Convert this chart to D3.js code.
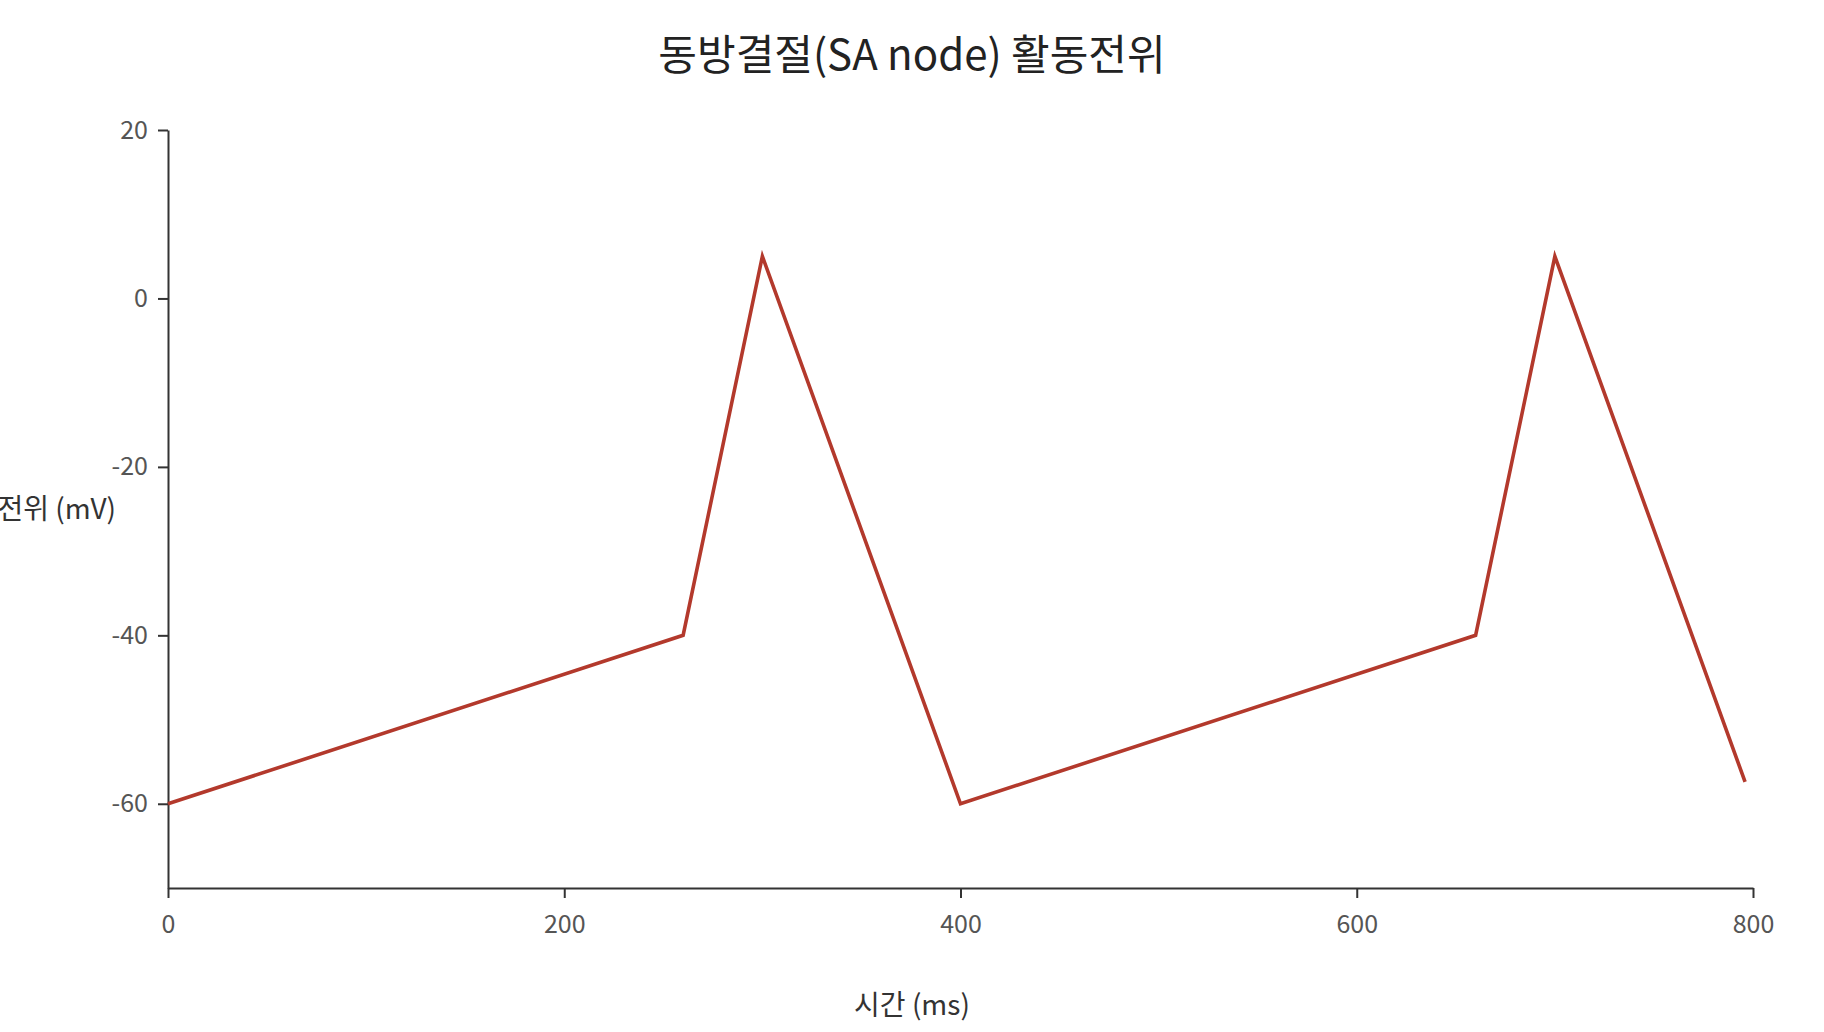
<!DOCTYPE html>
<html>
<head>
<meta charset="utf-8">
<script src="https://cdn.jsdelivr.net/npm/d3@7"></script>
<style>
  body { margin: 0; background: #fff; }
  svg text { font-family: "Noto Sans CJK KR", "Noto Sans", sans-serif; }
  .axis path, .axis line { stroke: #333; stroke-width: 2; }
  .axis text { fill: #555; font-size: 25px; }
</style>
</head>
<body>
<div id="chart"></div>
<script>
// action potential trace
const timeMs = [0, 260, 300, 400, 660, 700, 796];
const voltageMv = [-60, -40, 5, -60, -40, 5, -57.4];
const xTicks = [0, 200, 400, 600, 800];
const yTicks = [-60, -40, -20, 0, 20];

const width = 1824, height = 1032;
const margin = {top: 130, right: 71, bottom: 144, left: 168};
const innerW = width - margin.left - margin.right;
const innerH = height - margin.top - margin.bottom;

let points = timeMs.map((t, i) => ({t: t, v: voltageMv[i]}));

let svg = d3.select("#chart").append("svg")
    .attr("width", width)
    .attr("height", height);

let g = svg.append("g")
    .attr("transform", "translate(" + margin.left + "," + margin.top + ")");

let x = d3.scaleLinear().domain([0, 800]).range([0, innerW]);
let y = d3.scaleLinear().domain([-70, 20]).range([innerH, 0]);

// axes (plain hyphen for negatives, like the original)
g.append("g")
    .attr("class", "axis")
    .attr("transform", "translate(0," + innerH + ")")
    .call(d3.axisBottom(x).tickValues(xTicks).tickFormat(d => String(d))
        .tickSize(10).tickPadding(17).tickSizeOuter(0));

g.append("g")
    .attr("class", "axis")
    .call(d3.axisLeft(y).tickValues(yTicks).tickFormat(d => String(d))
        .tickSize(10).tickPadding(10).tickSizeOuter(0));

// the trace
let line = d3.line()
    .x(d => x(d.t))
    .y(d => y(d.v));

g.append("path")
    .datum(points)
    .attr("fill", "none")
    .attr("stroke", "#b3392c")
    .attr("stroke-width", 3.6)
    .attr("stroke-linejoin", "miter")
    .attr("d", line);

// titles
svg.append("text")
    .attr("x", width / 2)
    .attr("y", 70)
    .attr("text-anchor", "middle")
    .style("font-size", "42px")
    .style("fill", "#222")
    .text("동방결절(SA node) 활동전위");

svg.append("text")
    .attr("x", width / 2)
    .attr("y", 1015)
    .attr("text-anchor", "middle")
    .style("font-size", "28px")
    .style("fill", "#333")
    .text("시간 (ms)");

svg.append("text")
    .attr("x", 116)
    .attr("y", margin.top + innerH / 2 + 10)
    .attr("text-anchor", "end")
    .style("font-size", "28px")
    .style("fill", "#333")
    .text("막전위 (mV)");
</script>
</body>
</html>
